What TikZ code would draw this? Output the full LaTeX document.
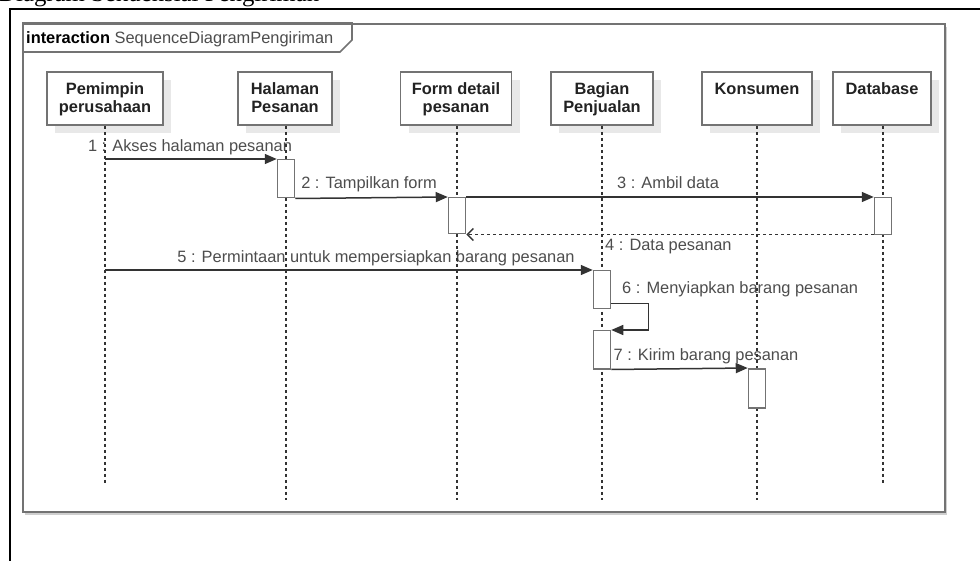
\documentclass[tikz,border=0pt]{standalone}
\usepackage{fontspec}
\setmainfont{Liberation Sans}
\newfontfamily\titlefont{Liberation Serif}
\usetikzlibrary{arrows.meta,shadows,calc}
\definecolor{edge}{HTML}{737373}
\definecolor{ink}{HTML}{333333}
\definecolor{headtext}{HTML}{222222}
\definecolor{msgtext}{HTML}{4D4D4D}
\definecolor{shade}{HTML}{E8E8E8}
\definecolor{frameshade}{HTML}{CFCFCF}
% equal height and depth for every line of a head label
\newcommand\headstrut{\rule[-3.2pt]{0pt}{17.2pt}}
\begin{document}
\begin{tikzpicture}[x=1pt,y=-1pt,
  head/.style={draw=edge, line width=1.8pt, fill=white, text=headtext,
    font=\fontsize{16.4}{18}\selectfont\bfseries, align=center, inner sep=0pt,
    minimum height=53pt,
    drop shadow={shadow xshift=8pt, shadow yshift=-8pt, fill=shade, draw=none, opacity=1}},
  act/.style={draw=edge, line width=1.5pt, fill=white, minimum width=17pt,
    inner sep=0pt, anchor=north},
  life/.style={ink, line width=1.5pt, dash pattern=on 3pt off 3pt},
  msg/.style={ink, line width=1.5pt, -{Triangle[length=12pt,width=10pt]}},
  ret/.style={ink, line width=1.5pt, dash pattern=on 3pt off 3pt,
    -{Straight Barb[length=6pt,width=12pt]}},
  lbl/.style={text=msgtext, font=\fontsize{16.4}{18}\selectfont, inner sep=0pt}]

% page and white background
\useasboundingbox (0,0) rectangle (980,561);
\fill[white] (0,0) rectangle (980,561);

% caption line above the figure (mostly outside the page)
\node[anchor=base west, inner sep=0pt, font=\titlefont\fontsize{24.8}{28}\selectfont]
  (ttl) at (-2,2) {Diagram Sekuensial Pengiriman};

% outer black border
\draw[black, line width=1.5pt] (10,562) -- (10,9) -- (981,9);

% interaction frame
\node[draw=edge, line width=1.8pt, fill=white, anchor=north west, inner sep=0pt,
  minimum width=922pt, minimum height=488pt,
  drop shadow={shadow xshift=2pt, shadow yshift=-3pt, fill=frameshade, draw=none, opacity=1}]
  (frm) at (22,23) {};
\draw[edge, line width=1.6pt] (frm.north west) -| ++(330,17) -- ++(-12,12) -- (frm.west |- 0,52);
\node[anchor=base west, inner sep=0pt, font=\fontsize{16.4}{18}\selectfont, text=msgtext]
  (frmlbl) at (26,44) {\textcolor{black}{\bfseries interaction} SequenceDiagramPengiriman};

% lifeline heads
\node[head, minimum width=116pt] (p1) at (105,98.5) {\headstrut Pemimpin\\\headstrut perusahaan};
\node[head, minimum width=94pt]  (p2) at (285,98.5) {\headstrut Halaman\\\headstrut Pesanan};
\node[head, minimum width=111pt] (p3) at (456,98.5) {\headstrut Form detail\\\headstrut pesanan};
\node[head, minimum width=102pt] (p4) at (602,98.5) {\headstrut Bagian\\\headstrut Penjualan};
\node[head, minimum width=110pt] (p5) at (757,98.5) {\headstrut Konsumen\\\headstrut};
\node[head, minimum width=98pt]  (p6) at (882,98.5) {\headstrut Database\\\headstrut};

% lifeline ends
\coordinate (e1) at (105,485);
\coordinate (e2) at (286,500);
\coordinate (e3) at (457,500);
\coordinate (e4) at (602,500);
\coordinate (e5) at (757,500);
\coordinate (e6) at (883,485);

% message labels (drawn under the lifelines)
\node[lbl, anchor=base] (t1) at (190,152) {1 : Akses halaman pesanan};
\node[lbl, anchor=base] (t2) at (369,189) {2 : Tampilkan form};
\node[lbl, anchor=base] (t3) at (668,189) {3 : Ambil data};
\node[lbl, anchor=base west] (t4) at (605,251) {4 : Data pesanan};
\node[lbl, anchor=base] (t5) at (376,263) {5 : Permintaan untuk mempersiapkan barang pesanan};
\node[lbl, anchor=base west] (t6) at (622,294) {6 : Menyiapkan barang pesanan};
\node[lbl, anchor=base] (t7) at (706,360) {7 : Kirim barang pesanan};

% lifelines
\draw[life] (p1.south -| e1) -- (e1);
\draw[life] (p2.south -| e2) -- (e2);
\draw[life] (p3.south -| e3) -- (e3);
\draw[life] (p4.south -| e4) -- (e4);
\draw[life] (p5.south -| e5) -- (e5);
\draw[life] (p6.south -| e6) -- (e6);

% activation bars
\node[act, minimum height=38pt] (a2)  at (286,159) {};
\node[act, minimum height=36pt] (a3)  at (457,197) {};
\node[act, minimum height=37pt] (a6)  at (883,197) {};
\node[act, minimum height=38pt] (a4a) at (602,270) {};
\node[act, minimum height=38pt] (a4b) at (602,330) {};
\node[act, minimum height=39pt] (a5)  at (757,368) {};

% messages
\draw[msg] (e1 |- a2.north) -- (a2.north west);
\draw[msg] (a2.south east) -- (a3.north west);
\draw[msg] (a3.north east) -- (a6.north west);
\draw[ret] (a6.west |- a3.south) -- (a3.south east);
\draw[msg] (e1 |- a4a.north) -- (a4a.north west);
\draw[msg] ($(a4a.south east)+(0,-6)$) -- ++(37,0) |- (a4b.north east);
\draw[msg] (a4b.south east) -- (a5.north west);

\end{tikzpicture}
\end{document}
